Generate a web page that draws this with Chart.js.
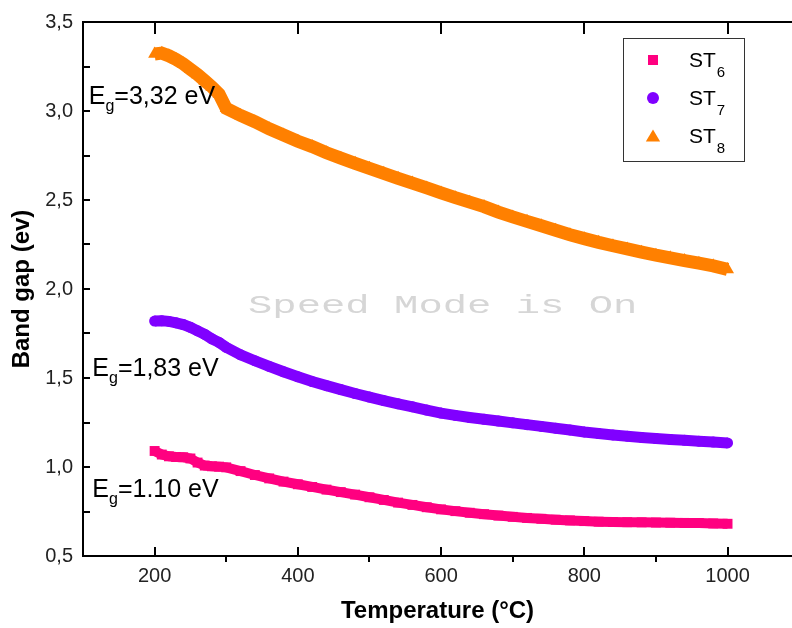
<!DOCTYPE html>
<html>
<head>
<meta charset="utf-8">
<script src="https://cdn.jsdelivr.net/npm/chart.js@4/dist/chart.umd.min.js"></script>
<style>
  html, body { margin: 0; padding: 0; background: #fff; }
</style>
</head>
<body>
<canvas id="c" width="792" height="628"></canvas>
<script>
// Band gap vs temperature for ST6 / ST7 / ST8.

const temps = [200, 210, 220, 230, 240, 250, 260, 270, 280, 290, 300,
  320, 340, 360, 380, 400, 420, 440, 460, 480, 500, 520, 540, 560, 580, 600,
  620, 640, 660, 680, 700, 720, 740, 760, 780, 800, 820, 840, 860, 880, 900,
  920, 940, 960, 980, 1000];

const st6 = [1.09, 1.07, 1.06, 1.056, 1.055, 1.048, 1.025, 1.008, 1.004, 1.002, 0.998,
  0.977, 0.955, 0.936, 0.918, 0.903, 0.888, 0.873, 0.859, 0.845, 0.83, 0.815, 0.80, 0.787, 0.774, 0.762,
  0.752, 0.743, 0.735, 0.727, 0.72, 0.714, 0.709, 0.704, 0.70, 0.696, 0.693, 0.691, 0.69, 0.689, 0.688,
  0.687, 0.686, 0.685, 0.683, 0.681];

const st7 = [1.82, 1.822, 1.818, 1.81, 1.80, 1.785, 1.765, 1.745, 1.72, 1.70, 1.672,
  1.63, 1.597, 1.565, 1.535, 1.507, 1.48, 1.457, 1.435, 1.413, 1.393, 1.373, 1.355, 1.338, 1.32, 1.303,
  1.29, 1.278, 1.268, 1.258, 1.248, 1.238, 1.228, 1.218, 1.208, 1.197, 1.188, 1.18, 1.173, 1.166, 1.16,
  1.155, 1.15, 1.145, 1.14, 1.135];

const st8 = [3.32, 3.325, 3.31, 3.29, 3.265, 3.235, 3.205, 3.17, 3.135, 3.095, 3.015,
  2.975, 2.94, 2.90, 2.865, 2.83, 2.80, 2.765, 2.735, 2.706, 2.678, 2.65, 2.622, 2.595, 2.568, 2.54,
  2.513, 2.488, 2.463, 2.432, 2.405, 2.38, 2.355, 2.33, 2.305, 2.283, 2.262, 2.243, 2.225, 2.207, 2.19,
  2.175, 2.16, 2.145, 2.13, 2.11];

const seriesBase = ["ST", "ST", "ST"];
const seriesSub = ["6", "7", "8"];
const egValues = ["1.10", "1,83", "3,32"];

const xTicks = [200, 400, 600, 800, 1000];
const xMinor = [300, 500, 700, 900];
const yTicks = [0.5, 1.0, 1.5, 2.0, 2.5, 3.0, 3.5];
const yMinor = [0.75, 1.25, 1.75, 2.25, 2.75, 3.25];

const FONT = 'Arial, "Liberation Sans", sans-serif';
const COLORS = ["#ff0080", "#8000ff", "#ff8000"];
const STYLES = ["rect", "circle", "triangle"];

// where each E_g label starts (left edge / baseline, in data units)
const egAnchors = [[113, 0.83], [113, 1.51], [108, 3.04]];

function toXY(ys) {
  return temps.map((t, i) => ({ x: t, y: ys[i] }));
}

function drawMarker(ctx, style, x, y, r) {
  ctx.beginPath();
  if (style === "rect") {
    ctx.rect(x - r, y - r, 2 * r, 2 * r);
  } else if (style === "circle") {
    ctx.arc(x, y, r, 0, Math.PI * 2);
  } else {
    ctx.moveTo(x, y - r);
    ctx.lineTo(x + r * 1.1, y + r * 0.85);
    ctx.lineTo(x - r * 1.1, y + r * 0.85);
    ctx.closePath();
  }
  ctx.fill();
}

const framePlugin = {
  id: "frame",
  afterDraw(chart) {
    const { ctx, chartArea: a, scales } = chart;
    const x = scales.x, y = scales.y;
    const right = chart.width;
    ctx.save();
    ctx.strokeStyle = "#000";
    ctx.lineWidth = 2;
    ctx.beginPath();
    ctx.moveTo(right, a.top);
    ctx.lineTo(a.left, a.top);
    ctx.lineTo(a.left, a.bottom);
    ctx.lineTo(right, a.bottom);
    for (const v of xTicks) {
      const px = Math.round(x.getPixelForValue(v));
      ctx.moveTo(px, a.bottom);
      ctx.lineTo(px, a.bottom - 9);
      ctx.moveTo(px, a.top);
      ctx.lineTo(px, a.top + 12);
    }
    for (const v of xMinor) {
      const px = Math.round(x.getPixelForValue(v));
      ctx.moveTo(px, a.bottom);
      ctx.lineTo(px, a.bottom + 6);
    }
    for (const v of yTicks.concat(yMinor)) {
      const py = Math.round(y.getPixelForValue(v));
      ctx.moveTo(a.left, py);
      ctx.lineTo(a.left + 7, py);
    }
    ctx.stroke();
    ctx.restore();
  },
};

const egPlugin = {
  id: "egLabels",
  afterDatasetsDraw(chart) {
    const { ctx, scales } = chart;
    ctx.save();
    ctx.fillStyle = "#000";
    ctx.textBaseline = "alphabetic";
    ctx.textAlign = "left";
    egValues.forEach((val, i) => {
      const px = scales.x.getPixelForValue(egAnchors[i][0]);
      const py = scales.y.getPixelForValue(egAnchors[i][1]);
      ctx.font = "25px " + FONT;
      ctx.fillText("E", px, py);
      let cx = px + ctx.measureText("E").width;
      ctx.font = "16px " + FONT;
      ctx.fillText("g", cx, py + 7);
      cx += ctx.measureText("g").width;
      ctx.font = "25px " + FONT;
      ctx.fillText("=" + val + " eV", cx, py);
    });
    ctx.restore();
  },
};

const legendPlugin = {
  id: "boxLegend",
  afterDraw(chart) {
    const ctx = chart.ctx;
    const box = { left: 623, top: 38, width: 121, height: 123 };
    ctx.save();
    ctx.fillStyle = "#fff";
    ctx.fillRect(box.left, box.top, box.width, box.height);
    ctx.strokeStyle = "#333";
    ctx.lineWidth = 1;
    ctx.strokeRect(box.left + 0.5, box.top + 0.5, box.width, box.height);
    chart.data.datasets.forEach((ds, i) => {
      const cy = box.top + 22 + i * 38;
      ctx.fillStyle = ds.borderColor;
      drawMarker(ctx, STYLES[i], box.left + 30, cy, i === 1 ? 6 : (i === 0 ? 5 : 6.5));
      ctx.fillStyle = "#000";
      ctx.textBaseline = "alphabetic";
      ctx.font = "21px " + FONT;
      const tx = box.left + 66;
      ctx.fillText(seriesBase[i], tx, cy + 7);
      const w = ctx.measureText(seriesBase[i]).width;
      ctx.font = "15px " + FONT;
      ctx.fillText(seriesSub[i], tx + w + 1, cy + 17);
    });
    ctx.restore();
  },
};

const watermarkPlugin = {
  id: "watermark",
  beforeDatasetsDraw(chart) {
    const ctx = chart.ctx;
    ctx.save();
    ctx.fillStyle = "#d6d6d6";
    ctx.font = '26px "Liberation Mono", "DejaVu Sans Mono", monospace';
    ctx.textBaseline = "alphabetic";
    ctx.translate(248, 313);
    ctx.scale(1.56, 1);
    ctx.fillText("Speed Mode is On", 0, 0);
    ctx.restore();
  },
};

const datasets = [st6, st7, st8].map((ys, i) => ({
  label: seriesBase[i] + seriesSub[i],
  data: toXY(ys),
  borderColor: COLORS[i],
  backgroundColor: COLORS[i],
  borderWidth: [10, 11, 13][i],
  pointStyle: STYLES[i],
  pointRadius: [7, 5.5, 7.5][i],
  pointBorderWidth: 0,
  pointBackgroundColor: COLORS[i],
  tension: 0,
  fill: false,
}));

new Chart(document.getElementById("c"), {
  type: "line",
  data: { datasets },
  options: {
    responsive: false,
    animation: false,
    layout: { autoPadding: false, padding: { top: 21, right: 0, bottom: 0, left: 0 } },
    plugins: { legend: { display: false }, tooltip: { enabled: false } },
    scales: {
      x: {
        type: "linear",
        min: 100,
        max: 1090,
        grid: { display: false, drawTicks: false },
        border: { display: false },
        afterBuildTicks: (s) => { s.ticks = xTicks.map((v) => ({ value: v })); },
        afterFit: (s) => { s.height = 72; },
        ticks: { autoSkip: false, maxRotation: 0, padding: 8, color: "#222", font: { family: FONT, size: 20 }, callback: (v) => String(v) },
        title: { display: true, text: "Temperature (°C)", color: "#000", font: { family: FONT, size: 24, weight: "bold" }, padding: { top: 0, bottom: 2 } },
      },
      y: {
        min: 0.5,
        max: 3.5,
        grid: { display: false, drawTicks: false },
        border: { display: false },
        afterBuildTicks: (s) => { s.ticks = yTicks.map((v) => ({ value: v })); },
        afterFit: (s) => { s.width = 83; },
        ticks: { padding: 10, color: "#222", font: { family: FONT, size: 20 }, callback: (v) => Number(v).toFixed(1).replace(".", ",") },
        title: { display: true, text: "Band gap (ev)", color: "#000", font: { family: FONT, size: 24, weight: "bold" }, padding: { top: 8, bottom: 0 } },
      },
    },
  },
  plugins: [watermarkPlugin, framePlugin, egPlugin, legendPlugin],
});
</script>
</body>
</html>
